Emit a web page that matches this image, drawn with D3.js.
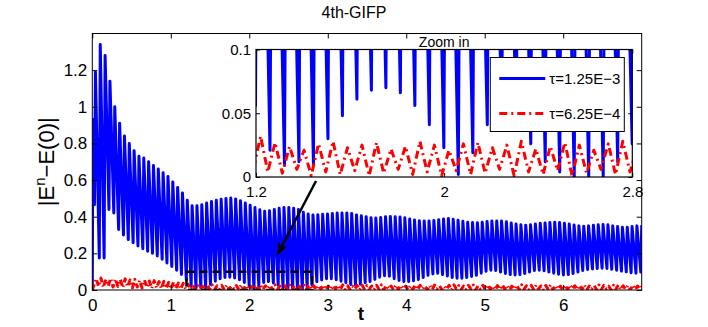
<!DOCTYPE html>
<html>
<head>
<meta charset="utf-8">
<script src="https://cdn.jsdelivr.net/npm/d3@7"></script>
<style>
  body { margin: 0; background: #fff; }
  svg text { font-family: "Liberation Sans", Arial, Helvetica, sans-serif; fill: #000; }
</style>
</head>
<body>
<svg id="chart" width="708" height="327"></svg>
<script>
// Oscillation grid (one dip per cycle, period)
const cycleStart = 0.0275;
const cyclePeriod = 0.0616;

// tau = 1.25E-3 : first samples, then peak / trough of every cycle
const blueStartT = [0, 0.008];
const blueStartV = [0, 0.93];
const bluePeaks = [
  1.19, 1.34, 1.28, 1.14, 1.00, 0.91, 0.84, 0.80, 0.76, 0.73,
  0.72, 0.70, 0.68, 0.66, 0.64, 0.62, 0.59, 0.56, 0.53, 0.49,
  0.46, 0.46, 0.465, 0.475, 0.483, 0.49, 0.496, 0.50, 0.502, 0.497,
  0.487, 0.475, 0.463, 0.45, 0.438, 0.43, 0.432, 0.44, 0.446, 0.45,
  0.45, 0.446, 0.44, 0.425, 0.415, 0.41, 0.411, 0.413, 0.415, 0.418,
  0.42, 0.42, 0.42, 0.418, 0.41, 0.405, 0.40, 0.395, 0.393, 0.396,
  0.40, 0.401, 0.40, 0.398, 0.394, 0.388, 0.382, 0.378, 0.376, 0.377,
  0.38, 0.384, 0.388, 0.39, 0.386, 0.381, 0.375, 0.37, 0.368, 0.367,
  0.37, 0.374, 0.376, 0.377, 0.376, 0.372, 0.366, 0.36, 0.356, 0.354,
  0.356, 0.36, 0.364, 0.366, 0.368, 0.37, 0.368, 0.364, 0.36, 0.355,
  0.35, 0.348, 0.35, 0.354, 0.356, 0.357, 0.356, 0.35, 0.346, 0.342,
  0.342, 0.346, 0.35, 0.354
];
const blueTroughs = [
  0.465, 0.175, 0.175, 0.44, 0.42, 0.33, 0.30, 0.275, 0.258, 0.24,
  0.225, 0.212, 0.20, 0.186, 0.168, 0.148, 0.128, 0.108, 0.085, 0.056,
  0.021, 0.009, 0.012, 0.009, 0.030, 0.048, 0.061, 0.068, 0.070, 0.066,
  0.056, 0.041, 0.023, 0.002, 0.019, 0.041, 0.046, 0.038, 0.026, 0.012,
  0.004, 0.0, 0.0, 0.0, 0.012, 0.026, 0.045, 0.055, 0.062, 0.062,
  0.056, 0.048, 0.04, 0.03, 0.027, 0.032, 0.04, 0.046, 0.058, 0.07,
  0.078, 0.075, 0.062, 0.052, 0.046, 0.046, 0.05, 0.057, 0.068, 0.08,
  0.088, 0.091, 0.084, 0.076, 0.068, 0.064, 0.064, 0.068, 0.074, 0.08,
  0.092, 0.102, 0.108, 0.106, 0.098, 0.09, 0.084, 0.082, 0.084, 0.09,
  0.098, 0.106, 0.108, 0.105, 0.098, 0.092, 0.086, 0.082, 0.084, 0.09,
  0.098, 0.106, 0.112, 0.115, 0.117, 0.119, 0.118, 0.113, 0.108, 0.103,
  0.099, 0.094, 0.092, 0.098
];

// tau = 6.25E-4
const redStartT = [0];
const redStartV = [0];
const redPeaks = [
  0.062, 0.065, 0.058, 0.063, 0.06, 0.057, 0.061, 0.055, 0.058, 0.052,
  0.054, 0.049, 0.051, 0.046, 0.047, 0.042, 0.043, 0.038, 0.036, 0.032,
  0.027, 0.024, 0.021, 0.026, 0.028, 0.023, 0.025, 0.027, 0.022, 0.024,
  0.028, 0.025, 0.021, 0.026, 0.027, 0.023, 0.025, 0.028, 0.022, 0.024,
  0.027, 0.025, 0.021, 0.026, 0.028, 0.023, 0.025, 0.027, 0.022, 0.024,
  0.026, 0.028, 0.023, 0.021, 0.025, 0.027, 0.024, 0.022, 0.026, 0.028,
  0.024, 0.022, 0.027, 0.025, 0.021, 0.024, 0.028, 0.026, 0.022, 0.025,
  0.027, 0.023, 0.021, 0.026, 0.028, 0.024, 0.022, 0.025, 0.027, 0.023,
  0.026, 0.028, 0.022, 0.024, 0.027, 0.025, 0.021, 0.026, 0.028, 0.023,
  0.025, 0.027, 0.022, 0.024, 0.028, 0.025, 0.021, 0.026, 0.027, 0.023,
  0.025, 0.028, 0.022, 0.024, 0.027, 0.025, 0.021, 0.026, 0.028, 0.023,
  0.025, 0.027, 0.022, 0.024
];
const redTroughs = [
  0.02, 0.014, 0.022, 0.016, 0.019, 0.013, 0.018, 0.012, 0.016, 0.011,
  0.014, 0.009, 0.012, 0.008, 0.01, 0.006, 0.008, 0.005, 0.006, 0.004,
  0.003, 0.006, 0.001, 0.004, 0.002, 0.005, 0.001, 0.003, 0.006, 0.002,
  0.004, 0.001, 0.005, 0.002, 0.003, 0.006, 0.001, 0.004, 0.002, 0.005,
  0.001, 0.003, 0.006, 0.002, 0.004, 0.001, 0.005, 0.002, 0.003, 0.006,
  0.001, 0.004, 0.002, 0.005, 0.001, 0.003, 0.006, 0.002, 0.004, 0.001,
  0.005, 0.002, 0.003, 0.006, 0.001, 0.004, 0.002, 0.005, 0.001, 0.003,
  0.006, 0.002, 0.004, 0.001, 0.005, 0.002, 0.003, 0.006, 0.001, 0.004,
  0.002, 0.005, 0.001, 0.003, 0.006, 0.002, 0.004, 0.001, 0.005, 0.002,
  0.003, 0.006, 0.001, 0.004, 0.002, 0.005, 0.001, 0.003, 0.006, 0.002,
  0.004, 0.001, 0.005, 0.002, 0.003, 0.006, 0.001, 0.004, 0.002, 0.005,
  0.001, 0.003, 0.006, 0.002
];

const xTicks = [0, 1, 2, 3, 4, 5, 6];
const yTicks = [0, 0.2, 0.4, 0.6, 0.8, 1, 1.2];
const insetXTicks = [1.2, 2, 2.8];
const insetYTicks = [0, 0.05, 0.1];
const zoomRange = [1.2, 2.8];       // t range of the inset
const zoomLevels = [0, 0.1];        // value range of the inset
const arrowFrom = [2.85, 0.595];
const arrowTo = [2.35, 0.186];
const seriesNames = ["τ=1.25E−3", "τ=6.25E−4"];

const blue = "#0000ff", red = "#ff0000";

// build series
const blueData = blueStartT.map((t, k) => [t, blueStartV[k]]);
bluePeaks.forEach((p, i) => {
  const t = cycleStart + i * cyclePeriod;
  blueData.push([t, blueTroughs[i]]);
  blueData.push([t + 0.2 * cyclePeriod, p]);
});
const redData = redStartT.map((t, k) => [t, redStartV[k]]);
redPeaks.forEach((p, i) => {
  const t = cycleStart + i * cyclePeriod;
  redData.push([t + 0.35 * cyclePeriod, p]);
  redData.push([t + 0.85 * cyclePeriod, redTroughs[i]]);
});

const svg = d3.select("#chart");

// Main axes
const m = { left: 92.3, right: 641.7, top: 33.5, bottom: 290 };
const x = d3.scaleLinear().domain([0, 7]).range([m.left, m.right]);
const y = d3.scaleLinear().domain([0, 1.4]).range([m.bottom, m.top]);

const defs = svg.append("defs");
defs.append("clipPath").attr("id", "mainClip")
  .append("rect").attr("x", m.left).attr("y", m.top)
  .attr("width", m.right - m.left).attr("height", m.bottom - m.top);

const mainLine = d3.line().x(d => x(d[0])).y(d => y(d[1]));

const plot = svg.append("g").attr("clip-path", "url(#mainClip)");
plot.append("path").datum(blueData)
  .attr("d", mainLine).attr("fill", "none").attr("stroke", blue)
  .attr("stroke-width", 3).attr("stroke-linejoin", "round");
plot.append("path").datum(redData)
  .attr("d", mainLine).attr("fill", "none").attr("stroke", red)
  .attr("stroke-width", 3).attr("stroke-linejoin", "round")
  .attr("stroke-dasharray", "6,3,1.5,3");

// dashed zoom window
plot.append("rect")
  .attr("x", x(zoomRange[0])).attr("y", y(zoomLevels[1]))
  .attr("width", x(zoomRange[1]) - x(zoomRange[0]))
  .attr("height", y(zoomLevels[0]) - y(zoomLevels[1]))
  .attr("fill", "none").attr("stroke", "#000")
  .attr("stroke-width", 2.5).attr("stroke-dasharray", "8,5");

function styleAxis(g, size) {
  g.select(".domain").remove();
  g.selectAll("line").attr("stroke", "#000");
  g.selectAll("text").style("font-size", size + "px");
}

svg.append("g").attr("transform", `translate(0,${m.bottom})`)
  .call(d3.axisBottom(x).tickValues(xTicks).tickSize(-5).tickPadding(9).tickFormat(d => d))
  .call(g => styleAxis(g, 17));
svg.append("g").attr("transform", `translate(0,${m.top})`)
  .call(d3.axisTop(x).tickValues(xTicks).tickSize(-5).tickFormat(""))
  .call(g => styleAxis(g, 17));
svg.append("g").attr("transform", `translate(${m.left},0)`)
  .call(d3.axisLeft(y).tickValues(yTicks).tickSize(-5).tickPadding(5).tickFormat(d => d))
  .call(g => styleAxis(g, 17));
svg.append("g").attr("transform", `translate(${m.right},0)`)
  .call(d3.axisRight(y).tickValues(yTicks).tickSize(-5).tickFormat(""))
  .call(g => styleAxis(g, 17));

svg.append("rect")
  .attr("x", m.left).attr("y", m.top)
  .attr("width", m.right - m.left).attr("height", m.bottom - m.top)
  .attr("fill", "none").attr("stroke", "#000").attr("stroke-width", 1);

// labels
svg.append("text").attr("x", 354).attr("y", 18)
  .attr("text-anchor", "middle").style("font-size", "16px").text("4th-GIFP");

svg.append("text").attr("x", 361).attr("y", 320)
  .attr("text-anchor", "middle").style("font-size", "19px").style("font-weight", "bold").text("t");

const yl = svg.append("text")
  .attr("transform", `translate(54,${(m.top + m.bottom) / 2}) rotate(-90)`)
  .attr("text-anchor", "middle").style("font-size", "22px");
yl.append("tspan").text("|E");
yl.append("tspan").attr("dy", -9).style("font-size", "15px").text("n");
yl.append("tspan").attr("dy", 9).text("−E(0)|");

// arrow
const a0 = [x(arrowFrom[0]), y(arrowFrom[1])];
const a1 = [x(arrowTo[0]), y(arrowTo[1])];
const len = Math.hypot(a1[0] - a0[0], a1[1] - a0[1]);
const ux = (a1[0] - a0[0]) / len, uy = (a1[1] - a0[1]) / len;
const headL = 14, headW = 5;
svg.append("line")
  .attr("x1", a0[0]).attr("y1", a0[1])
  .attr("x2", a1[0] - ux * headL * 0.7).attr("y2", a1[1] - uy * headL * 0.7)
  .attr("stroke", "#000").attr("stroke-width", 2.5);
svg.append("path")
  .attr("d", d3.line()([
    a1,
    [a1[0] - ux * headL - uy * headW, a1[1] - uy * headL + ux * headW],
    [a1[0] - ux * headL * 0.7, a1[1] - uy * headL * 0.7],
    [a1[0] - ux * headL + uy * headW, a1[1] - uy * headL - ux * headW]
  ]) + "Z")
  .attr("fill", "#000");

// Inset axes
const n = { left: 256, right: 632.3, top: 49.5, bottom: 177 };
const ix = d3.scaleLinear().domain(zoomRange).range([n.left, n.right]);
const iy = d3.scaleLinear().domain(zoomLevels).range([n.bottom, n.top]);

defs.append("clipPath").attr("id", "insetClip")
  .append("rect").attr("x", n.left).attr("y", n.top)
  .attr("width", n.right - n.left).attr("height", n.bottom - n.top);

svg.append("rect")
  .attr("x", n.left).attr("y", n.top)
  .attr("width", n.right - n.left).attr("height", n.bottom - n.top)
  .attr("fill", "#fff");

const insetLine = d3.line().x(d => ix(d[0])).y(d => iy(d[1]));
const inset = svg.append("g").attr("clip-path", "url(#insetClip)");
inset.append("path").datum(blueData)
  .attr("d", insetLine).attr("fill", "none").attr("stroke", blue)
  .attr("stroke-width", 3).attr("stroke-linejoin", "round");
inset.append("path").datum(redData)
  .attr("d", insetLine).attr("fill", "none").attr("stroke", red)
  .attr("stroke-width", 3).attr("stroke-linejoin", "round")
  .attr("stroke-dasharray", "8,4,2,4");

svg.append("g").attr("transform", `translate(0,${n.bottom})`)
  .call(d3.axisBottom(ix).tickValues(insetXTicks).tickSize(-4).tickPadding(9).tickFormat(d => d))
  .call(g => styleAxis(g, 15));
svg.append("g").attr("transform", `translate(0,${n.top})`)
  .call(d3.axisTop(ix).tickValues(insetXTicks).tickSize(-4).tickFormat(""))
  .call(g => styleAxis(g, 15));
svg.append("g").attr("transform", `translate(${n.left},0)`)
  .call(d3.axisLeft(iy).tickValues(insetYTicks).tickSize(-4).tickPadding(5).tickFormat(d => d))
  .call(g => styleAxis(g, 15));
svg.append("g").attr("transform", `translate(${n.right},0)`)
  .call(d3.axisRight(iy).tickValues(insetYTicks).tickSize(-4).tickFormat(""))
  .call(g => styleAxis(g, 15));

svg.append("rect")
  .attr("x", n.left).attr("y", n.top)
  .attr("width", n.right - n.left).attr("height", n.bottom - n.top)
  .attr("fill", "none").attr("stroke", "#000").attr("stroke-width", 1.2);

svg.append("text").attr("x", (n.left + n.right) / 2).attr("y", n.top - 3)
  .attr("text-anchor", "middle").style("font-size", "14px").text("Zoom in");

// legend
const lg = svg.append("g").attr("transform", `translate(${n.right - 142},${n.top + 8})`);
lg.append("rect").attr("width", 134).attr("height", 74)
  .attr("fill", "#fff").attr("stroke", "#000").attr("stroke-width", 1);
const legendStyles = [
  { color: blue, dash: null },
  { color: red, dash: "8,4,2,4" }
];
seriesNames.forEach((name, k) => {
  const ly = 21 + k * 35;
  const ln = lg.append("line").attr("x1", 9).attr("x2", 55).attr("y1", ly).attr("y2", ly)
    .attr("stroke", legendStyles[k].color).attr("stroke-width", 3);
  if (legendStyles[k].dash) ln.attr("stroke-dasharray", legendStyles[k].dash);
  lg.append("text").attr("x", 59).attr("y", ly + 5.5).style("font-size", "15px").text(name);
});
</script>
</body>
</html>
